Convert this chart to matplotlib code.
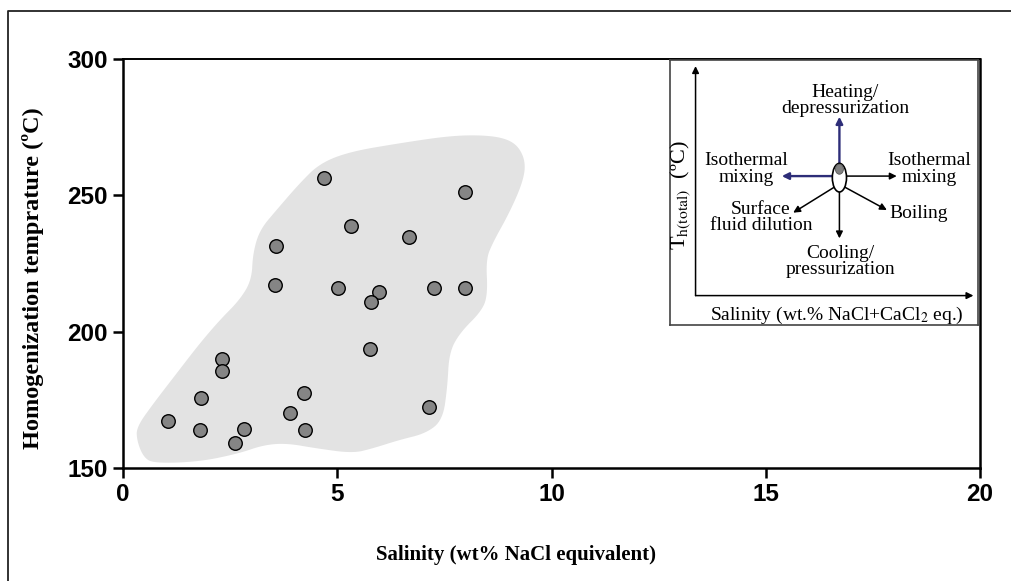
import numpy as np
import matplotlib.pyplot as plt
from matplotlib.patches import Polygon, Ellipse
from matplotlib.lines import Line2D

plt.rcParams['mathtext.fontset'] = 'stix'

# fluid inclusion data (salinity wt% NaCl eq., Th in C)
salinity = [4.68, 7.98, 5.32, 6.68, 3.58, 3.55, 5.01, 5.97, 5.79, 7.26, 7.98, 5.77,
            2.30, 2.31, 1.81, 4.22, 7.15, 1.05, 3.90, 1.79, 2.82, 4.24, 2.61]
th_temp = [256.2, 251.3, 238.8, 234.8, 231.5, 217.1, 215.9, 214.4, 210.8, 215.9, 215.9, 193.6,
           190.1, 185.7, 175.6, 177.4, 172.5, 167.3, 170.3, 163.9, 164.3, 163.9, 159.1]

# outline of the shaded field (salinity, temperature)
field_x = [0.32, 0.47, 0.71, 1.79, 2.72, 3.27, 3.81, 4.51, 5.36, 5.83, 6.45, 7.07, 7.46, 7.57,
           7.61, 7.85, 8.39, 8.51, 8.47, 8.62, 9.01, 9.32, 9.40, 9.24, 8.93, 8.39, 7.61, 6.45,
           5.29, 4.59, 4.12, 3.58, 3.19, 3.03, 3.00, 2.72, 2.26, 1.79, 1.25, 0.71, 0.32]
field_y = [160.3, 154.1, 151.7, 152.3, 155.4, 158.4, 159.1, 157.2, 155.4, 157.2, 160.3, 162.7,
           167.6, 179.8, 192.1, 199.4, 207.9, 214.1, 226.3, 232.4, 243.4, 254.4, 261.7, 267.8,
           270.9, 272.1, 271.8, 269.1, 266.0, 261.7, 254.4, 244.6, 237.3, 228.7, 218.9, 211.6,
           204.3, 195.7, 184.7, 173.7, 165.1]

xticks = [0, 5, 10, 15, 20]
yticks = [150, 200, 250, 300]


def chaikin(pts, n=3):
    # corner cutting so the field edge looks hand drawn / smooth
    for _ in range(n):
        new = []
        for i in range(len(pts)):
            p0 = pts[i]
            p1 = pts[(i + 1) % len(pts)]
            new.append(0.75 * p0 + 0.25 * p1)
            new.append(0.25 * p0 + 0.75 * p1)
        pts = np.array(new)
    return pts


fig = plt.figure(figsize=(10.11, 5.81), dpi=100)

# outer frame of the figure
fig.add_artist(Line2D([0.0079, 0.0079, 1.0], [0.0, 0.981, 0.981], transform=fig.transFigure,
                      color='#222222', lw=1.3))

ax = fig.add_axes([0.1217, 0.1945, 0.8477, 0.704])
field = chaikin(np.column_stack([field_x, field_y]))
ax.add_patch(Polygon(field, closed=True, facecolor='#e3e3e3', edgecolor='none', zorder=1))
ax.scatter(salinity, th_temp, s=95, c='#858585', edgecolors='black', linewidths=1.0, zorder=3)

ax.set_xlim(0, 20)
ax.set_ylim(150, 300)
ax.set_xticks(xticks)
ax.set_yticks(yticks)
for sp in ax.spines.values():
    sp.set_linewidth(1.8)
ax.spines['top'].set_linewidth(1.4)
ax.tick_params(direction='out', length=7, width=1.8, pad=4)
for lab in ax.get_xticklabels() + ax.get_yticklabels():
    lab.set_fontfamily('Liberation Sans')
    lab.set_fontweight('bold')
    lab.set_fontsize(17.5)

ax.set_xlabel('Salinity (wt% NaCl equivalent)', fontfamily='Liberation Serif',
              fontweight='bold', fontsize=15)
ax.set_ylabel('Homogenization temprature (ºC)', fontfamily='Liberation Serif',
              fontweight='bold', fontsize=17.5)
ax.xaxis.label.set_va('center')
ax.xaxis.set_label_coords(0.458, -0.213)
ax.yaxis.label.set_va('center')
ax.yaxis.set_label_coords(-0.105, 0.465)

# inset sketch of fluid evolution trends
ins = fig.add_axes([0.6627, 0.4406, 0.3047, 0.4561])
ins.set_xlim(0, 1)
ins.set_ylim(0, 1)
ins.set_xticks([])
ins.set_yticks([])
for sp in ins.spines.values():
    sp.set_color('#444444')
    sp.set_linewidth(1.2)
ins.patch.set_facecolor('white')
ins.set_zorder(5)

ak = dict(arrowstyle='-|>', mutation_scale=10, lw=1.1, color='black', shrinkA=0, shrinkB=0)
ins.annotate('', xy=(0.083, 0.977), xytext=(0.083, 0.111), arrowprops=ak)
ins.annotate('', xy=(0.985, 0.111), xytext=(0.083, 0.111), arrowprops=ak)

navy = '#2d2d78'
ins.annotate('', xy=(0.550, 0.786), xytext=(0.550, 0.60),
             arrowprops=dict(ak, color=navy, lw=1.7))
ins.annotate('', xy=(0.363, 0.562), xytext=(0.535, 0.562),
             arrowprops=dict(ak, color=navy, lw=1.7))
ins.annotate('', xy=(0.736, 0.562), xytext=(0.565, 0.562), arrowprops=ak)
ins.annotate('', xy=(0.550, 0.327), xytext=(0.550, 0.505), arrowprops=ak)
ins.annotate('', xy=(0.400, 0.424), xytext=(0.540, 0.525), arrowprops=ak)
ins.annotate('', xy=(0.704, 0.434), xytext=(0.560, 0.525), arrowprops=ak)
ins.add_patch(Ellipse((0.550, 0.556), 0.046, 0.108, facecolor='white', edgecolor='black',
                      lw=1.2, zorder=4))
ins.add_patch(Ellipse((0.550, 0.588), 0.026, 0.038, facecolor='#808080', edgecolor='#555555',
                      lw=0.6, zorder=5))

tk = dict(fontfamily='Liberation Serif', fontsize=14, ha='center', va='center',
          linespacing=0.95)
ins.text(0.568, 0.847, 'Heating/\ndepressurization', **tk)
ins.text(0.247, 0.589, 'Isothermal\nmixing', **tk)
ins.text(0.842, 0.589, 'Isothermal\nmixing', **tk)
ins.text(0.295, 0.406, 'Surface\nfluid dilution', **tk)
ins.text(0.808, 0.421, 'Boiling', **tk)
ins.text(0.552, 0.239, 'Cooling/\npressurization', **tk)
ins.text(0.541, 0.038, r'Salinity (wt.% NaCl+CaCl$_2$ eq.)', **tk)
ins.text(0.034, 0.49, r'T$_{\mathrm{h(total)}}$  (ºC)', rotation=90,
         **dict(tk, fontsize=16))

fig.savefig('out.png', dpi=100)
